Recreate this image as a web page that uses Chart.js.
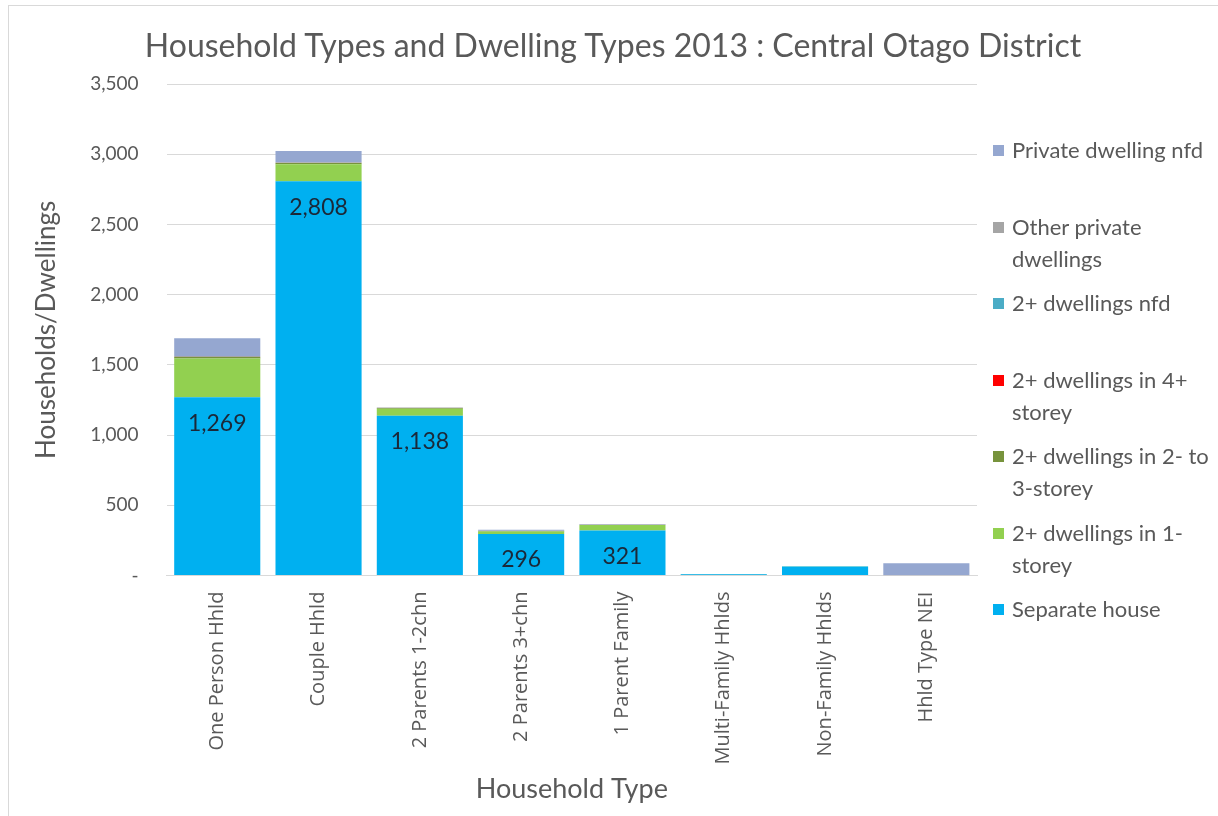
<!DOCTYPE html>
<html>
<head>
<meta charset="utf-8">
<script src="https://cdn.jsdelivr.net/npm/chart.js@4"></script>
<style>
  body { margin: 0; background: #fff; }
  #wrap { position: relative; width: 1218px; height: 816px; overflow: hidden; }
  #frame { position: absolute; left: 8px; top: 5px; width: 1220px; height: 820px; border: 1px solid #d9d9d9; box-sizing: border-box; }
  #title { position: absolute; left: 0; top: 25px; width: 1226px; text-align: center; font-family: Lato, sans-serif; font-size: 32px; color: #595959; }
  #legend { position: absolute; left: 993px; top: 0; width: 225px; font-family: Lato, sans-serif; font-size: 22px; color: #595959; }
  .item { position: absolute; left: 0; width: 200px; padding-left: 19px; line-height: 32px; }
  .box { position: absolute; left: 0; top: 11px; width: 11px; height: 11px; }
</style>
</head>
<body>
<div id="wrap">
  <div id="frame"></div>
  <canvas id="container" width="1218" height="816"></canvas>
  <div id="title">Household Types and Dwelling Types 2013 : Central Otago District</div>
  <div id="legend"></div>
</div>
<script>
const categories = ['One Person Hhld', 'Couple Hhld', '2 Parents 1-2chn', '2 Parents 3+chn',
  '1 Parent Family', 'Multi-Family Hhlds', 'Non-Family Hhlds', 'Hhld Type NEI'];

const separateHouse   = [1269, 2808, 1138, 296, 321, 9, 64, 0];
const oneStorey       = [276, 120, 50, 18, 40, 0, 3, 0];
const twoToThree      = [12, 9, 6, 3, 0, 3, 0, 0];
const fourPlus        = [0, 0, 0, 0, 0, 0, 0, 0];
const twoPlusNfd      = [0, 0, 0, 0, 0, 0, 0, 0];
const otherPrivate    = [6, 6, 3, 3, 3, 0, 0, 3];
const privateNfd      = [127, 80, 0, 6, 3, 0, 0, 84];

const yTicks = [0, 500, 1000, 1500, 2000, 2500, 3000, 3500];

const series = [
  { label: 'Separate house', data: separateHouse, color: '#00b0f0' },
  { label: '2+ dwellings in 1-storey', data: oneStorey, color: '#92d050' },
  { label: '2+ dwellings in 2- to 3-storey', data: twoToThree, color: '#77933c' },
  { label: '2+ dwellings in 4+ storey', data: fourPlus, color: '#ff0000' },
  { label: '2+ dwellings nfd', data: twoPlusNfd, color: '#4bacc6' },
  { label: 'Other private dwellings', data: otherPrivate, color: '#a5a5a5' },
  { label: 'Private dwelling nfd', data: privateNfd, color: '#95a7d0' }
];

const grey = '#595959';
const font = 'Lato, sans-serif';

// values written inside the top of the separate house bars
const barLabels = {
  id: 'barLabels',
  afterDatasetsDraw(chart) {
    const ctx = chart.ctx;
    const meta = chart.getDatasetMeta(0);
    ctx.save();
    ctx.font = '23px ' + font;
    ctx.fillStyle = '#1b2838';
    ctx.textAlign = 'center';
    ctx.textBaseline = 'middle';
    meta.data.forEach((bar, i) => {
      const v = separateHouse[i];
      if (v < 200) return;
      ctx.fillText(v.toLocaleString('en-US'), bar.x, bar.y + 26);
    });
    ctx.restore();
  }
};

new Chart(document.getElementById('container'), {
  type: 'bar',
  data: {
    labels: categories,
    datasets: series.map(s => ({
      label: s.label,
      data: s.data,
      backgroundColor: s.color,
      borderWidth: 0,
      barPercentage: 0.85,
      categoryPercentage: 1
    }))
  },
  options: {
    responsive: false,
    animation: false,
    layout: { padding: { left: 27, right: 241, top: 84, bottom: 5 } },
    plugins: {
      legend: { display: false },
      tooltip: { enabled: false }
    },
    scales: {
      x: {
        stacked: true,
        grid: { display: false },
        border: { color: '#d9d9d9' },
        ticks: { color: grey, font: { family: 'Open Sans, sans-serif', size: 20 }, minRotation: 90, maxRotation: 90, padding: 8 },
        title: { display: true, text: 'Household Type', color: grey, font: { family: font, size: 27 }, padding: { top: 0, bottom: 6 } }
      },
      y: {
        stacked: true,
        min: 0,
        max: 3500,
        afterBuildTicks: axis => { axis.ticks = yTicks.map(v => ({ value: v })); },
        grid: { color: '#d9d9d9', drawTicks: false },
        border: { display: false },
        ticks: {
          color: grey,
          font: { family: font, size: 19 },
          padding: 28,
          callback: v => v === 0 ? '-' : v.toLocaleString('en-US')
        },
        title: { display: true, text: 'Households/Dwellings', color: grey, font: { family: font, size: 26 }, padding: { top: 4, bottom: 0 } }
      }
    }
  },
  plugins: [barLabels]
});

// legend on the right, top item is the last dataset
const legend = document.getElementById('legend');
series.slice().reverse().forEach((s, i) => {
  const el = document.createElement('div');
  el.className = 'item';
  el.style.top = (134 + i * 76.5) + 'px';
  el.innerHTML = '<span class="box" style="background:' + s.color + '"></span>' + s.label;
  legend.appendChild(el);
});
</script>
</body>
</html>
